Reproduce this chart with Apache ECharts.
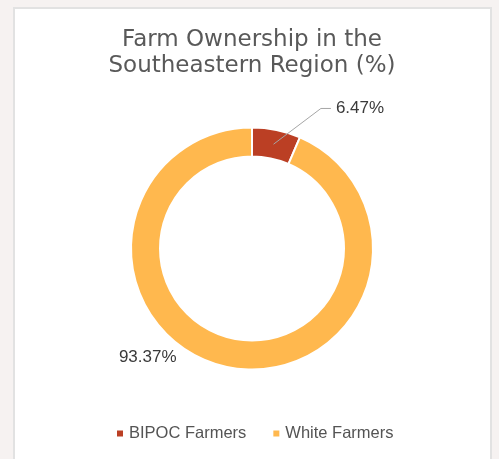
<!DOCTYPE html>
<html>
<head>
<meta charset="utf-8">
<script src="https://cdn.jsdelivr.net/npm/echarts@6/dist/echarts.min.js"></script>
<style>
  html, body { margin: 0; padding: 0; background: #f6f2f1; }
  #chart { width: 499px; height: 459px; }
</style>
</head>
<body>
<div id="chart"></div>
<script>
const titleText = 'Farm Ownership in the\nSoutheastern Region (%)';
const categories = ['BIPOC Farmers', 'White Farmers'];
const values = [6.47, 93.37];
const colors = ['#BB3F24', '#FFB84E'];

const chart = echarts.init(document.getElementById('chart'), null, { renderer: 'canvas' });

const CENTER = [252, 248.5];
const RADII = [92, 121];

const data = categories.map((name, i) => ({
  name: name,
  value: values[i],
  itemStyle: { color: colors[i] },
  labelLine: i === 0 ? { show: true, showAbove: true, length: 22, length2: 50 } : { show: false, length: 0, length2: 0 }
}));

chart.setOption({
  animation: false,
  backgroundColor: 'transparent',
  graphic: [{
    type: 'rect',
    shape: { x: 14, y: 8, width: 477, height: 470 },
    style: { fill: '#ffffff', stroke: '#e2e2e2', lineWidth: 2 },
    z: -10, silent: true
  }],
  title: {
    text: titleText,
    left: 247,
    textAlign: 'center',
    top: 22,
    textStyle: {
      fontFamily: 'DejaVu Sans',
      fontSize: 23,
      fontWeight: 'normal',
      color: '#595959',
      lineHeight: 26
    }
  },
  legend: {
    data: categories,
    top: 420,
    left: 110,
    icon: 'rect',
    itemWidth: 8,
    itemHeight: 8,
    itemGap: 25,
    textStyle: { fontFamily: 'Liberation Sans', fontSize: 16.5, color: '#545454' }
  },
  series: [{
    type: 'pie',
    center: CENTER,
    radius: RADII,
    startAngle: 90,
    clockwise: true,
    avoidLabelOverlap: false,
    itemStyle: { borderColor: '#ffffff', borderWidth: 2 },
    label: {
      show: true,
      position: 'outside',
      formatter: '{c}%',
      fontFamily: 'Liberation Sans',
      fontSize: 17,
      color: '#3a3a3a'
    },
    labelLine: { showAbove: true, lineStyle: { color: '#a6a6a6', width: 1 } },
    labelLayout: function (p) {
      if (p.dataIndex === 0) {
        const pts = p.labelLinePoints;
        if (pts) {
          const k = (RADII[0] + RADII[1]) / 2 / RADII[1];
          pts[0] = [CENTER[0] + (pts[0][0] - CENTER[0]) * k, CENTER[1] + (pts[0][1] - CENTER[1]) * k];
          pts[1] = [pts[2][0] - 10, pts[2][1]];
          return { labelLinePoints: pts };
        }
        return {};
      }
      return { dx: -46, dy: -10 };
    },
    emphasis: { disabled: true },
    data: data
  }]
});

// keep the leader line above its slice
try {
  const seriesModel = chart.getModel().getSeriesByIndex(0);
  const el = seriesModel.getData().getItemGraphicEl(0);
  const guide = el && el.getTextGuideLine && el.getTextGuideLine();
  if (guide) {
    guide.z2 = 100;
    guide.markRedraw();
    chart.getZr().refreshImmediately();
  }
} catch (e) {}
</script>
</body>
</html>
